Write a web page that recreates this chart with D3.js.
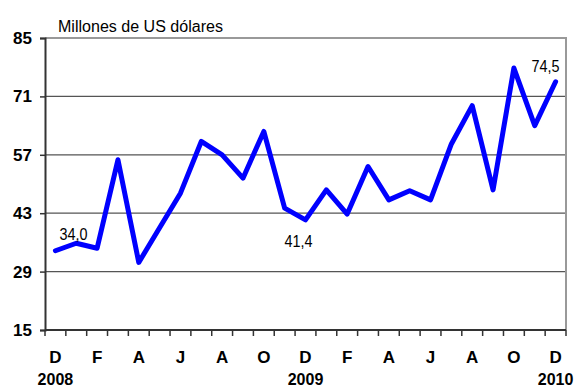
<!DOCTYPE html>
<html>
<head>
<meta charset="utf-8">
<script src="https://cdn.jsdelivr.net/npm/d3@7"></script>
<style>
  html, body { margin: 0; padding: 0; background: #fff; }
  svg { display: block; }
</style>
</head>
<body>
<svg id="chart" width="577" height="388"></svg>
<script>
// Monthly values, Dec 2008 – Dec 2010 (millions of US dollars)
const months = ["D","E","F","M","A","M","J","J","A","S","O","N",
                "D","E","F","M","A","M","J","J","A","S","O","N","D"];
const values = [34.0, 35.8, 34.6, 55.8, 31.2, 39.5, 47.8, 60.2, 57.0, 51.4, 62.6, 44.2,
                41.4, 48.6, 42.8, 54.2, 46.2, 48.4, 46.2, 59.6, 68.8, 48.6, 77.8, 64.0, 74.5];
const yTicks = [15, 29, 43, 57, 71, 85];
const years = [{ idx: 0, label: "2008" }, { idx: 12, label: "2009" }, { idx: 24, label: "2010" }];
const valueLabels = [
  { idx: 0, text: "34,0", dx: 18, dy: -11 },
  { idx: 12, text: "41,4", dx: -7, dy: 27 },
  { idx: 24, text: "74,5", dx: -10, dy: -10 }
];
const unitTitle = "Millones de US dólares";

const svg = d3.select("#chart");
const plotLeft = 45, plotRight = 566, plotTop = 38, plotBottom = 330;

const x = d3.scaleBand().domain(d3.range(months.length)).range([plotLeft, plotRight]).padding(0);
const y = d3.scaleLinear().domain([15, 85]).range([plotBottom, plotTop]);
const cx = i => x(i) + x.bandwidth() / 2;

// horizontal gridlines
svg.append("g").selectAll("line")
  .data(yTicks.filter(t => t !== 15 && t !== 85))
  .join("line")
  .attr("x1", plotLeft).attr("x2", plotRight)
  .attr("y1", d => y(d)).attr("y2", d => y(d))
  .attr("stroke", "#555").attr("stroke-width", 1.2);

// top and right frame
svg.append("path")
  .attr("d", `M${plotLeft},${plotTop}H${plotRight}V${plotBottom}`)
  .attr("fill", "none").attr("stroke", "#999").attr("stroke-width", 2);

// y axis
const yAxis = d3.axisLeft(y).tickValues(yTicks).tickSize(5).tickPadding(8).tickFormat(d3.format("d"));
const gy = svg.append("g").attr("transform", `translate(${plotLeft},0)`).call(yAxis);
gy.select(".domain").attr("stroke", "#333").attr("stroke-width", 2);
gy.selectAll(".tick line").attr("stroke", "#333").attr("stroke-width", 1.5);
gy.selectAll(".tick text")
  .attr("font-family", "Liberation Sans, Arial, sans-serif")
  .attr("font-weight", "bold").attr("font-size", 17).attr("fill", "#000");

// x axis: ticks at band boundaries
const boundaries = d3.range(months.length + 1).map(i => i === months.length ? plotRight : x(i));
svg.append("line")
  .attr("x1", plotLeft).attr("x2", plotRight).attr("y1", plotBottom).attr("y2", plotBottom)
  .attr("stroke", "#333").attr("stroke-width", 2);
svg.append("g").selectAll("line").data(boundaries).join("line")
  .attr("x1", d => d).attr("x2", d => d)
  .attr("y1", plotBottom).attr("y2", plotBottom + 6)
  .attr("stroke", "#333").attr("stroke-width", 1.5);

// month labels, every other month
svg.append("g").selectAll("text")
  .data(months.map((m, i) => ({ m, i })).filter(d => d.i % 2 === 0))
  .join("text")
  .attr("x", d => cx(d.i)).attr("y", 363)
  .attr("text-anchor", "middle")
  .attr("font-family", "Liberation Sans, Arial, sans-serif")
  .attr("font-weight", "bold").attr("font-size", 17)
  .text(d => d.m);

// year labels
svg.append("g").selectAll("text").data(years).join("text")
  .attr("x", d => cx(d.idx)).attr("y", 385)
  .attr("text-anchor", "middle")
  .attr("font-family", "Liberation Sans, Arial, sans-serif")
  .attr("font-weight", "bold").attr("font-size", 16)
  .text(d => d.label);

// unit title
svg.append("text")
  .attr("x", 58).attr("y", 32)
  .attr("font-family", "Liberation Sans Narrow, Arial Narrow, Liberation Sans, sans-serif")
  .attr("font-size", 16)
  .attr("textLength", 165).attr("lengthAdjust", "spacingAndGlyphs")
  .text(unitTitle);

// series line
const line = d3.line().x((d, i) => cx(i)).y(d => y(d));
svg.append("path")
  .datum(values)
  .attr("d", line)
  .attr("fill", "none")
  .attr("stroke", "#0000ff")
  .attr("stroke-width", 5)
  .attr("stroke-linejoin", "round")
  .attr("stroke-linecap", "round");

// value labels
svg.append("g").selectAll("text").data(valueLabels).join("text")
  .attr("x", d => cx(d.idx) + d.dx)
  .attr("y", d => y(values[d.idx]) + d.dy)
  .attr("text-anchor", "middle")
  .attr("font-family", "Liberation Sans Narrow, Arial Narrow, Liberation Sans, sans-serif")
  .attr("font-size", 17)
  .attr("textLength", 28).attr("lengthAdjust", "spacingAndGlyphs")
  .text(d => d.text);
</script>
</body>
</html>
